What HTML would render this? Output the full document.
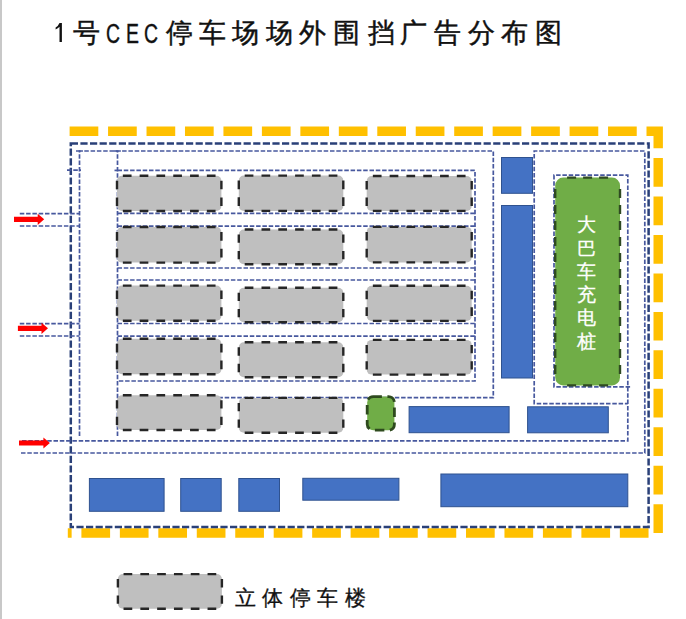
<!DOCTYPE html>
<html><head><meta charset="utf-8"><style>
html,body{margin:0;padding:0;background:#fff;width:686px;height:619px;overflow:hidden;position:relative;font-family:"Liberation Sans",sans-serif;}
.lbar{position:absolute;left:0;top:0;width:2px;height:619px;background:#C8C8C8}
svg{position:absolute;left:0;top:0}
.tc{position:absolute;top:20px;font-size:27px;line-height:27px;color:#111;-webkit-text-stroke:0.45px #111}
.tl{position:absolute;top:20.5px;font-size:27px;line-height:27px;color:#111;transform:scaleX(0.72);transform-origin:0 0;-webkit-text-stroke:0.4px #111}
.g{position:absolute;color:#fff;font-size:19px;line-height:23.3px;width:30px;text-align:center;-webkit-text-stroke:0.3px #fff}
.lg{position:absolute;font-size:21px;letter-spacing:6.4px;white-space:nowrap;color:#111;-webkit-text-stroke:0.3px #111}
</style></head><body>
<div class="lbar"></div>
<svg width="686" height="619" viewBox="0 0 686 619">
<path d="M69.6,131.3 L658.2,131.3 L658.2,533 L67.8,533" fill="none" stroke="#FFC000" stroke-width="9.4" stroke-dasharray="28.7 9.76" stroke-linejoin="miter"/>
<rect x="70.8" y="143.4" width="577.8" height="383.6" fill="none" stroke="#2A4078" stroke-width="2.5" stroke-dasharray="7.2 2.4"/>
<path d="M79.5,436 L79.5,151 L493.3,151 L493.3,397.7 L117.5,397.7" fill="none" stroke="#47589E" stroke-width="1.7" stroke-dasharray="4.5 1.8"/>
<path d="M117.5,436 L117.5,151" fill="none" stroke="#47589E" stroke-width="1.7" stroke-dasharray="4.5 1.8"/>
<path d="M117.5,170.4 L475,170.4 L475,381 L117.5,381" fill="none" stroke="#47589E" stroke-width="1.7" stroke-dasharray="4.5 1.8"/>
<path d="M117.5,213.4 L475,213.4" fill="none" stroke="#47589E" stroke-width="1.7" stroke-dasharray="4.5 1.8"/>
<path d="M117.5,226.2 L475,226.2" fill="none" stroke="#47589E" stroke-width="1.7" stroke-dasharray="4.5 1.8"/>
<path d="M117.5,268 L475,268" fill="none" stroke="#47589E" stroke-width="1.7" stroke-dasharray="4.5 1.8"/>
<path d="M117.5,280 L475,280" fill="none" stroke="#47589E" stroke-width="1.7" stroke-dasharray="4.5 1.8"/>
<path d="M117.5,323.5 L475,323.5" fill="none" stroke="#47589E" stroke-width="1.7" stroke-dasharray="4.5 1.8"/>
<path d="M117.5,336.2 L475,336.2" fill="none" stroke="#47589E" stroke-width="1.7" stroke-dasharray="4.5 1.8"/>
<path d="M19.8,213.7 L79.5,213.7" fill="none" stroke="#47589E" stroke-width="1.7" stroke-dasharray="4.5 1.8"/>
<path d="M19.8,226 L79.5,226" fill="none" stroke="#47589E" stroke-width="1.7" stroke-dasharray="4.5 1.8"/>
<path d="M19.8,323.7 L79.5,323.7" fill="none" stroke="#47589E" stroke-width="1.7" stroke-dasharray="4.5 1.8"/>
<path d="M19.8,336 L79.5,336" fill="none" stroke="#47589E" stroke-width="1.7" stroke-dasharray="4.5 1.8"/>
<path d="M22,440.9 L627.8,440.9 L627.8,175.2 L554,175.2 L554,386.8 L630.5,386.8" fill="none" stroke="#47589E" stroke-width="1.7" stroke-dasharray="4.5 1.8"/>
<path d="M21,453 L644.8,453 L644.8,151 L534.2,151 L534.2,403.6 L627.8,403.6" fill="none" stroke="#47589E" stroke-width="1.7" stroke-dasharray="4.5 1.8"/>
<path d="M76,151 L83,151" fill="none" stroke="#47589E" stroke-width="1.7" stroke-dasharray="4.5 1.8"/>
<path d="M114,151 L121,151" fill="none" stroke="#47589E" stroke-width="1.7" stroke-dasharray="4.5 1.8"/>
<path d="M67,170.2 L81,170.2" fill="none" stroke="#47589E" stroke-width="1.7" stroke-dasharray="4.5 1.8"/>
<path d="M114.5,170.4 L117.5,170.4" fill="none" stroke="#47589E" stroke-width="1.7" stroke-dasharray="4.5 1.8"/>
<rect x="117" y="175.8" width="104.4" height="35.19999999999999" rx="5" fill="#BFBFBF"/>
<path d="M122,175.8 L216.4,175.8" stroke="#262626" stroke-width="2.4" stroke-dasharray="8.7 8.1" stroke-dashoffset="-0.85" fill="none"/>
<path d="M221.4,180.8 L221.4,206" stroke="#262626" stroke-width="2.4" stroke-dasharray="8.7 8.1" stroke-dashoffset="0.15" fill="none"/>
<path d="M216.4,211 L122,211" stroke="#262626" stroke-width="2.4" stroke-dasharray="8.7 8.1" stroke-dashoffset="-0.85" fill="none"/>
<path d="M117,206 L117,180.8" stroke="#262626" stroke-width="2.4" stroke-dasharray="8.7 8.1" stroke-dashoffset="0.15" fill="none"/>
<rect x="117" y="227" width="104.4" height="35.60000000000002" rx="5" fill="#BFBFBF"/>
<path d="M122,227 L216.4,227" stroke="#262626" stroke-width="2.4" stroke-dasharray="8.7 8.1" stroke-dashoffset="-0.85" fill="none"/>
<path d="M221.4,232 L221.4,257.6" stroke="#262626" stroke-width="2.4" stroke-dasharray="8.7 8.1" stroke-dashoffset="-0.05" fill="none"/>
<path d="M216.4,262.6 L122,262.6" stroke="#262626" stroke-width="2.4" stroke-dasharray="8.7 8.1" stroke-dashoffset="-0.85" fill="none"/>
<path d="M117,257.6 L117,232" stroke="#262626" stroke-width="2.4" stroke-dasharray="8.7 8.1" stroke-dashoffset="-0.05" fill="none"/>
<rect x="117" y="285.6" width="104.4" height="35.099999999999966" rx="5" fill="#BFBFBF"/>
<path d="M122,285.6 L216.4,285.6" stroke="#262626" stroke-width="2.4" stroke-dasharray="8.7 8.1" stroke-dashoffset="-0.85" fill="none"/>
<path d="M221.4,290.6 L221.4,315.7" stroke="#262626" stroke-width="2.4" stroke-dasharray="8.7 8.1" stroke-dashoffset="0.20" fill="none"/>
<path d="M216.4,320.7 L122,320.7" stroke="#262626" stroke-width="2.4" stroke-dasharray="8.7 8.1" stroke-dashoffset="-0.85" fill="none"/>
<path d="M117,315.7 L117,290.6" stroke="#262626" stroke-width="2.4" stroke-dasharray="8.7 8.1" stroke-dashoffset="0.20" fill="none"/>
<rect x="117" y="338.8" width="104.4" height="35.39999999999998" rx="5" fill="#BFBFBF"/>
<path d="M122,338.8 L216.4,338.8" stroke="#262626" stroke-width="2.4" stroke-dasharray="8.7 8.1" stroke-dashoffset="-0.85" fill="none"/>
<path d="M221.4,343.8 L221.4,369.2" stroke="#262626" stroke-width="2.4" stroke-dasharray="8.7 8.1" stroke-dashoffset="0.05" fill="none"/>
<path d="M216.4,374.2 L122,374.2" stroke="#262626" stroke-width="2.4" stroke-dasharray="8.7 8.1" stroke-dashoffset="-0.85" fill="none"/>
<path d="M117,369.2 L117,343.8" stroke="#262626" stroke-width="2.4" stroke-dasharray="8.7 8.1" stroke-dashoffset="0.05" fill="none"/>
<rect x="117" y="395.2" width="104.4" height="34.80000000000001" rx="5" fill="#BFBFBF"/>
<path d="M122,395.2 L216.4,395.2" stroke="#262626" stroke-width="2.4" stroke-dasharray="8.7 8.1" stroke-dashoffset="-0.85" fill="none"/>
<path d="M221.4,400.2 L221.4,425" stroke="#262626" stroke-width="2.4" stroke-dasharray="8.7 8.1" stroke-dashoffset="0.35" fill="none"/>
<path d="M216.4,430 L122,430" stroke="#262626" stroke-width="2.4" stroke-dasharray="8.7 8.1" stroke-dashoffset="-0.85" fill="none"/>
<path d="M117,425 L117,400.2" stroke="#262626" stroke-width="2.4" stroke-dasharray="8.7 8.1" stroke-dashoffset="0.35" fill="none"/>
<rect x="238.8" y="175.6" width="104.5" height="35.30000000000001" rx="5" fill="#BFBFBF"/>
<path d="M243.8,175.6 L338.3,175.6" stroke="#262626" stroke-width="2.4" stroke-dasharray="8.7 8.1" stroke-dashoffset="-0.90" fill="none"/>
<path d="M343.3,180.6 L343.3,205.9" stroke="#262626" stroke-width="2.4" stroke-dasharray="8.7 8.1" stroke-dashoffset="0.10" fill="none"/>
<path d="M338.3,210.9 L243.8,210.9" stroke="#262626" stroke-width="2.4" stroke-dasharray="8.7 8.1" stroke-dashoffset="-0.90" fill="none"/>
<path d="M238.8,205.9 L238.8,180.6" stroke="#262626" stroke-width="2.4" stroke-dasharray="8.7 8.1" stroke-dashoffset="0.10" fill="none"/>
<rect x="238.8" y="229.5" width="104.5" height="34.69999999999999" rx="5" fill="#BFBFBF"/>
<path d="M243.8,229.5 L338.3,229.5" stroke="#262626" stroke-width="2.4" stroke-dasharray="8.7 8.1" stroke-dashoffset="-0.90" fill="none"/>
<path d="M343.3,234.5 L343.3,259.2" stroke="#262626" stroke-width="2.4" stroke-dasharray="8.7 8.1" stroke-dashoffset="0.40" fill="none"/>
<path d="M338.3,264.2 L243.8,264.2" stroke="#262626" stroke-width="2.4" stroke-dasharray="8.7 8.1" stroke-dashoffset="-0.90" fill="none"/>
<path d="M238.8,259.2 L238.8,234.5" stroke="#262626" stroke-width="2.4" stroke-dasharray="8.7 8.1" stroke-dashoffset="0.40" fill="none"/>
<rect x="238.8" y="287.8" width="104.5" height="34.39999999999998" rx="5" fill="#BFBFBF"/>
<path d="M243.8,287.8 L338.3,287.8" stroke="#262626" stroke-width="2.4" stroke-dasharray="8.7 8.1" stroke-dashoffset="-0.90" fill="none"/>
<path d="M343.3,292.8 L343.3,317.2" stroke="#262626" stroke-width="2.4" stroke-dasharray="8.7 8.1" stroke-dashoffset="0.55" fill="none"/>
<path d="M338.3,322.2 L243.8,322.2" stroke="#262626" stroke-width="2.4" stroke-dasharray="8.7 8.1" stroke-dashoffset="-0.90" fill="none"/>
<path d="M238.8,317.2 L238.8,292.8" stroke="#262626" stroke-width="2.4" stroke-dasharray="8.7 8.1" stroke-dashoffset="0.55" fill="none"/>
<rect x="238.8" y="342.2" width="104.5" height="35.0" rx="5" fill="#BFBFBF"/>
<path d="M243.8,342.2 L338.3,342.2" stroke="#262626" stroke-width="2.4" stroke-dasharray="8.7 8.1" stroke-dashoffset="-0.90" fill="none"/>
<path d="M343.3,347.2 L343.3,372.2" stroke="#262626" stroke-width="2.4" stroke-dasharray="8.7 8.1" stroke-dashoffset="0.25" fill="none"/>
<path d="M338.3,377.2 L243.8,377.2" stroke="#262626" stroke-width="2.4" stroke-dasharray="8.7 8.1" stroke-dashoffset="-0.90" fill="none"/>
<path d="M238.8,372.2 L238.8,347.2" stroke="#262626" stroke-width="2.4" stroke-dasharray="8.7 8.1" stroke-dashoffset="0.25" fill="none"/>
<rect x="238.8" y="397.9" width="104.5" height="34.900000000000034" rx="5" fill="#BFBFBF"/>
<path d="M243.8,397.9 L338.3,397.9" stroke="#262626" stroke-width="2.4" stroke-dasharray="8.7 8.1" stroke-dashoffset="-0.90" fill="none"/>
<path d="M343.3,402.9 L343.3,427.8" stroke="#262626" stroke-width="2.4" stroke-dasharray="8.7 8.1" stroke-dashoffset="0.30" fill="none"/>
<path d="M338.3,432.8 L243.8,432.8" stroke="#262626" stroke-width="2.4" stroke-dasharray="8.7 8.1" stroke-dashoffset="-0.90" fill="none"/>
<path d="M238.8,427.8 L238.8,402.9" stroke="#262626" stroke-width="2.4" stroke-dasharray="8.7 8.1" stroke-dashoffset="0.30" fill="none"/>
<rect x="366.7" y="176" width="105.0" height="34.900000000000006" rx="5" fill="#BFBFBF"/>
<path d="M371.7,176 L466.7,176" stroke="#262626" stroke-width="2.4" stroke-dasharray="8.7 8.1" stroke-dashoffset="-1.15" fill="none"/>
<path d="M471.7,181 L471.7,205.9" stroke="#262626" stroke-width="2.4" stroke-dasharray="8.7 8.1" stroke-dashoffset="0.30" fill="none"/>
<path d="M466.7,210.9 L371.7,210.9" stroke="#262626" stroke-width="2.4" stroke-dasharray="8.7 8.1" stroke-dashoffset="-1.15" fill="none"/>
<path d="M366.7,205.9 L366.7,181" stroke="#262626" stroke-width="2.4" stroke-dasharray="8.7 8.1" stroke-dashoffset="0.30" fill="none"/>
<rect x="366.7" y="226.9" width="105.0" height="35.49999999999997" rx="5" fill="#BFBFBF"/>
<path d="M371.7,226.9 L466.7,226.9" stroke="#262626" stroke-width="2.4" stroke-dasharray="8.7 8.1" stroke-dashoffset="-1.15" fill="none"/>
<path d="M471.7,231.9 L471.7,257.4" stroke="#262626" stroke-width="2.4" stroke-dasharray="8.7 8.1" stroke-dashoffset="0.00" fill="none"/>
<path d="M466.7,262.4 L371.7,262.4" stroke="#262626" stroke-width="2.4" stroke-dasharray="8.7 8.1" stroke-dashoffset="-1.15" fill="none"/>
<path d="M366.7,257.4 L366.7,231.9" stroke="#262626" stroke-width="2.4" stroke-dasharray="8.7 8.1" stroke-dashoffset="0.00" fill="none"/>
<rect x="366.7" y="285.7" width="105.0" height="35.19999999999999" rx="5" fill="#BFBFBF"/>
<path d="M371.7,285.7 L466.7,285.7" stroke="#262626" stroke-width="2.4" stroke-dasharray="8.7 8.1" stroke-dashoffset="-1.15" fill="none"/>
<path d="M471.7,290.7 L471.7,315.9" stroke="#262626" stroke-width="2.4" stroke-dasharray="8.7 8.1" stroke-dashoffset="0.15" fill="none"/>
<path d="M466.7,320.9 L371.7,320.9" stroke="#262626" stroke-width="2.4" stroke-dasharray="8.7 8.1" stroke-dashoffset="-1.15" fill="none"/>
<path d="M366.7,315.9 L366.7,290.7" stroke="#262626" stroke-width="2.4" stroke-dasharray="8.7 8.1" stroke-dashoffset="0.15" fill="none"/>
<rect x="366.7" y="339.9" width="105.0" height="34.700000000000045" rx="5" fill="#BFBFBF"/>
<path d="M371.7,339.9 L466.7,339.9" stroke="#262626" stroke-width="2.4" stroke-dasharray="8.7 8.1" stroke-dashoffset="-1.15" fill="none"/>
<path d="M471.7,344.9 L471.7,369.6" stroke="#262626" stroke-width="2.4" stroke-dasharray="8.7 8.1" stroke-dashoffset="0.40" fill="none"/>
<path d="M466.7,374.6 L371.7,374.6" stroke="#262626" stroke-width="2.4" stroke-dasharray="8.7 8.1" stroke-dashoffset="-1.15" fill="none"/>
<path d="M366.7,369.6 L366.7,344.9" stroke="#262626" stroke-width="2.4" stroke-dasharray="8.7 8.1" stroke-dashoffset="0.40" fill="none"/>
<rect x="367.2" y="396.6" width="27.2" height="33.6" rx="6" fill="#70AD47" stroke="#2E4A1E" stroke-width="2.8" stroke-dasharray="9.5 5.5" stroke-dashoffset="0.8"/>
<rect x="555.2" y="177.6" width="64.79999999999995" height="207.79999999999998" rx="8" fill="#70AD47"/>
<path d="M563.2,177.6 L612,177.6" stroke="#2F4A22" stroke-width="2.4" stroke-dasharray="9 7" stroke-dashoffset="-3.90" fill="none"/>
<path d="M620,185.6 L620,377.4" stroke="#2F4A22" stroke-width="2.4" stroke-dasharray="9 7" stroke-dashoffset="-3.40" fill="none"/>
<path d="M612,385.4 L563.2,385.4" stroke="#2F4A22" stroke-width="2.4" stroke-dasharray="9 7" stroke-dashoffset="-3.90" fill="none"/>
<path d="M555.2,377.4 L555.2,185.6" stroke="#2F4A22" stroke-width="2.4" stroke-dasharray="9 7" stroke-dashoffset="-3.40" fill="none"/>
<rect x="501.5" y="157.5" width="31" height="35.80000000000001" fill="#4472C4" stroke="#2F528F" stroke-width="1"/>
<rect x="501.5" y="205.5" width="31" height="172.5" fill="#4472C4" stroke="#2F528F" stroke-width="1"/>
<rect x="409.1" y="406.6" width="100.0" height="26.099999999999966" fill="#4472C4" stroke="#2F528F" stroke-width="1"/>
<rect x="527.6" y="406.8" width="80.69999999999993" height="26.0" fill="#4472C4" stroke="#2F528F" stroke-width="1"/>
<rect x="89.4" y="478.5" width="74.69999999999999" height="32.80000000000001" fill="#4472C4" stroke="#2F528F" stroke-width="1"/>
<rect x="180.7" y="478.5" width="40.5" height="32.80000000000001" fill="#4472C4" stroke="#2F528F" stroke-width="1"/>
<rect x="238.8" y="478.5" width="40.69999999999999" height="32.80000000000001" fill="#4472C4" stroke="#2F528F" stroke-width="1"/>
<rect x="302.8" y="478.3" width="96.09999999999997" height="21.899999999999977" fill="#4472C4" stroke="#2F528F" stroke-width="1"/>
<rect x="440.9" y="474.0" width="186.89999999999998" height="32.69999999999999" fill="#4472C4" stroke="#2F528F" stroke-width="1"/>
<path d="M14,216.70000000000002 L37.7,216.70000000000002 L37.7,213.70000000000002 L44.2,219.3 L37.7,224.9 L37.7,221.9 L14,221.9 Z" fill="#FF0000"/>
<path d="M17.9,325.7 L41.5,325.7 L41.5,322.7 L48,328.3 L41.5,333.90000000000003 L41.5,330.90000000000003 L17.9,330.90000000000003 Z" fill="#FF0000"/>
<path d="M19,440.4 L43.4,440.4 L43.4,437.4 L49.9,443 L43.4,448.6 L43.4,445.6 L19,445.6 Z" fill="#FF0000"/>
<path d="M59.5,22.9 L61.9,22.9 L61.9,42 L59.5,42 L59.5,26.8 Q58,28.6 55.6,29.6 L55.6,27.4 Q58.2,26 59.5,22.9 Z" fill="#111"/>
<rect x="117.9" y="574.1" width="104.0" height="34.69999999999993" rx="5" fill="#BFBFBF"/>
<path d="M122.9,574.1 L216.9,574.1" stroke="#262626" stroke-width="2.4" stroke-dasharray="8.7 8.1" stroke-dashoffset="-0.65" fill="none"/>
<path d="M221.9,579.1 L221.9,603.8" stroke="#262626" stroke-width="2.4" stroke-dasharray="8.7 8.1" stroke-dashoffset="0.40" fill="none"/>
<path d="M216.9,608.8 L122.9,608.8" stroke="#262626" stroke-width="2.4" stroke-dasharray="8.7 8.1" stroke-dashoffset="-0.65" fill="none"/>
<path d="M117.9,603.8 L117.9,579.1" stroke="#262626" stroke-width="2.4" stroke-dasharray="8.7 8.1" stroke-dashoffset="0.40" fill="none"/>
</svg>
<span class="tc" style="left:72.80px">号</span>
<span class="tc" style="left:166.10px">停</span>
<span class="tc" style="left:199.10px">车</span>
<span class="tc" style="left:232.30px">场</span>
<span class="tc" style="left:266.40px">场</span>
<span class="tc" style="left:298.50px">外</span>
<span class="tc" style="left:333.05px">围</span>
<span class="tc" style="left:368.10px">挡</span>
<span class="tc" style="left:399.90px">广</span>
<span class="tc" style="left:434.20px">告</span>
<span class="tc" style="left:468.10px">分</span>
<span class="tc" style="left:501.10px">布</span>
<span class="tc" style="left:534.95px">图</span>
<span class="tl" style="left:106.00px">C</span>
<span class="tl" style="left:125.50px">E</span>
<span class="tl" style="left:143.50px">C</span>
<div class="g" style="left:571px;top:213.3px">大<br>巴<br>车<br>充<br>电<br>桩</div>
<div class="lg" style="left:235px;top:583.5px">立体停车楼</div>
</body></html>
